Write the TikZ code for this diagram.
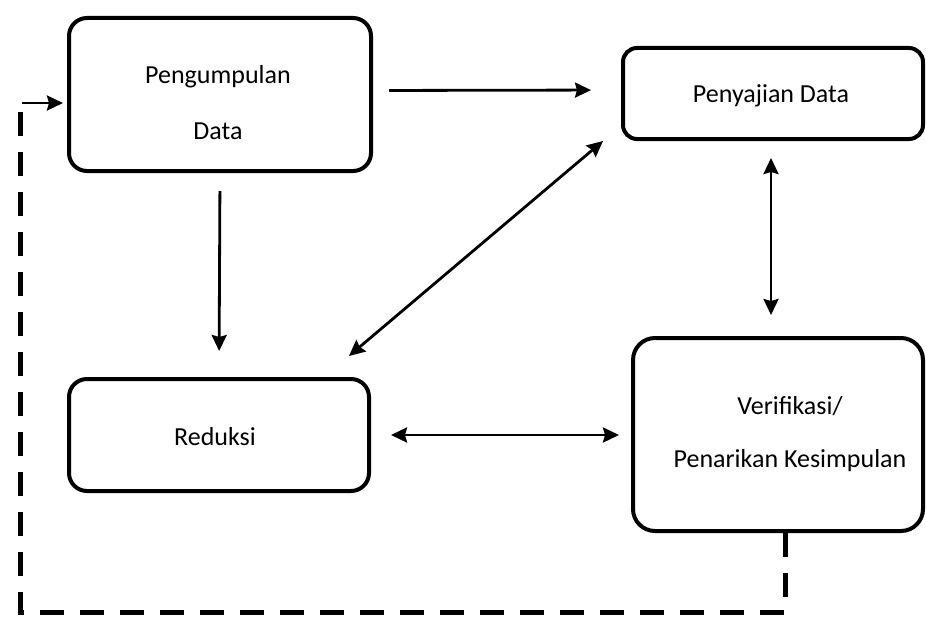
\documentclass[tikz,border=0pt]{standalone}
\usepackage{fontspec}
\setmainfont{Carlito}
\usepackage{tikz}
\usetikzlibrary{arrows.meta, positioning, calc}

\tikzset{
  stagebox/.style={draw, line width=4pt, rounded corners=18pt},
  stagetext/.style={align=center, font=\fontsize{26}{31}\selectfont},
  flowline/.style={line width=2.8pt, -{Stealth[length=16pt,width=15pt,inset=2pt]}},
  flowboth/.style={line width=2.8pt, {Stealth[length=16pt,width=15pt,inset=2pt]}-{Stealth[length=16pt,width=15pt,inset=2pt]}},
  loopline/.style={line width=5pt, dash pattern=on 24pt off 16pt}
}

\begin{document}
\begin{tikzpicture}[x=1pt, y=-1pt]
  \useasboundingbox (0,0) rectangle (926,618);
  % the four stages
  \node[stagebox, minimum width=302pt, minimum height=153pt] (pengumpulan) at (220,94.5) {};
  \node[stagebox, minimum width=300pt, minimum height=91pt, rounded corners=14pt] (penyajian) at (773,93.5) {};
  \node[stagebox, minimum width=300pt, minimum height=112pt] (reduksi) at (219,435) {};
  \node[stagebox, minimum width=290pt, minimum height=193pt, rounded corners=22pt] (verifikasi) at (778,434.5) {};
  \node[stagetext] (pengumpulanLabel) at ($(pengumpulan)+(-2,8)$) {Pengumpulan\\[25pt]Data};
  \node[stagetext] (penyajianLabel) at ($(penyajian)+(-2,2)$) {Penyajian Data};
  \node[stagetext] (reduksiLabel) at ($(reduksi)+(-4,2)$) {Reduksi};
  \node[stagetext] (verifikasiLabel) at ($(verifikasi)+(12,0)$) {Verifikasi/\\[22pt]Penarikan Kesimpulan};
  % connectors
  \coordinate (sajiBottom) at ($(penyajian.south)+(-2,0)$);
  \coordinate (verifTop) at (sajiBottom |- verifikasi.north);
  \draw[flowline, shorten <=16pt, shorten >=30pt] ($(pengumpulan.east)+(0,-4)$) -- ($(penyajian.west)+(0,-3.5)$);
  \draw[flowline, shorten <=18pt, shorten >=26pt] (pengumpulan.south) -- (reduksi.north);
  \draw[flowboth] ($(reduksi.north east)+(-22,-21)$) -- ($(penyajian.south west)+(-18,0)$);
  \draw[flowboth, shorten <=17pt, shorten >=21pt] (sajiBottom) -- (verifTop);
  \draw[flowboth, shorten <=20pt, shorten >=12pt] (reduksi.east) -- (reduksi.east -| verifikasi.west);
  % feedback loop
  \coordinate (loopA) at (785,612);
  \coordinate (loopB) at (20,612);
  \coordinate (loopC) at (20,103);
  \draw[loopline] (verifikasi.south -| loopA) -- (loopA) -- (loopB) -- (loopC);
  \draw[flowline, shorten >=4pt] ($(loopC)+(2,0)$) -- (pengumpulan.west |- loopC);
\end{tikzpicture}
\end{document}
